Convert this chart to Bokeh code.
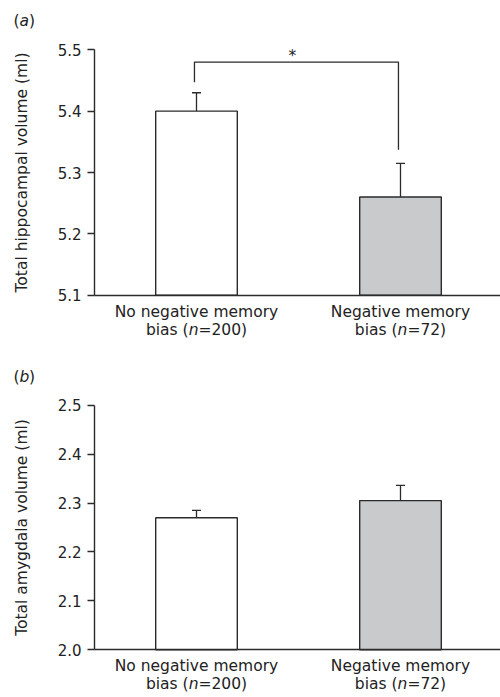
from bokeh.plotting import figure
from bokeh.models import (Range1d, FixedTicker, Label, ColumnDataSource, Whisker, TeeHead,
                          PrintfTickFormatter)
from bokeh.layouts import column
from bokeh.embed import file_html
from bokeh.resources import INLINE

# ---------------- data ----------------
group_line1 = ["No negative memory", "Negative memory"]
group_n = ["200", "72"]
bar_x = [0.5, 1.5]

hippo_mean = [5.40, 5.26]
hippo_se = [0.03, 0.055]
hippo_ticks = [5.1, 5.2, 5.3, 5.4, 5.5]
hippo_label = "Total hippocampal volume (ml)"

amyg_mean = [2.27, 2.305]
amyg_se = [0.015, 0.031]
amyg_ticks = [2.0, 2.1, 2.2, 2.3, 2.4, 2.5]
amyg_label = "Total amygdala volume (ml)"

bracket_x = [0.49, 1.49]
bracket_y = 5.48
bracket_left_end = 5.447
bracket_right_end = 5.337
star_x = 0.97

bar_fills = ["white", "#c9cacc"]

# ---------------- style / layout ----------------
FONT = "DejaVu Sans"
FS = 15.5
TXT = "#222222"
LINE = "#2b2b2b"
W = 500
AXIS_PX = 94      # page x of the y axis
BAR0_PX = 196     # page x of first bar centre
UNIT_PX = 204     # px per x unit
SHIFT = 6         # labels render this much below their nominal baseline
EM = {'b': .635, 'i': .278, 'a': .613, 's': .521, ' ': .318, '(': .390, ')': .390,
      'n': .634, '=': .838}
for d in "0123456789":
    EM[d] = .636


def tw(s, fs=FS):
    return sum(EM.get(c, .6) for c in s) * fs


X0 = bar_x[0] - (BAR0_PX - 0) / UNIT_PX
X1 = bar_x[0] + (W - BAR0_PX) / UNIT_PX
XAXIS = bar_x[0] - (BAR0_PX - AXIS_PX) / UNIT_PX


def add_italic_line(p, cx, y, pre, ital, post):
    w_pre, w_it, w_post = tw(pre), tw(ital), tw(post)
    start = -(w_pre + w_it + w_post) / 2
    common = dict(x=cx, x_units="data", y=y, y_units="screen",
                  text_font=FONT, text_font_size=f"{FS}px", text_color=TXT,
                  text_baseline="alphabetic", text_align="left")
    p.add_layout(Label(text=pre, x_offset=start, **common))
    p.add_layout(Label(text=ital, x_offset=start + w_pre, text_font_style="italic", **common))
    p.add_layout(Label(text=post, x_offset=start + w_pre + w_it, **common))


def add_tag(p, x, y, letter):
    common = dict(x_units="screen", y_units="screen", y=y, text_font=FONT,
                  text_font_size=f"{FS}px", text_color=TXT, text_baseline="alphabetic",
                  text_align="left")
    p.add_layout(Label(text="(", x=x, **common))
    p.add_layout(Label(text=letter, x=x + tw("("), text_font_style="italic", **common))
    p.add_layout(Label(text=")", x=x + tw("(") + tw("a"), **common))


def make_panel(means, ses, ticks, ylabel, tag, height, top_px, bottom_px,
               line1_px, line2_px, tag_px):
    ymin, ymax = ticks[0], ticks[-1]
    ppu = (bottom_px - top_px) / (ymax - ymin)
    y_end = ymax + top_px / ppu
    y_start = ymin - (height - bottom_px) / ppu
    p = figure(width=W, height=height, output_backend="svg", toolbar_location=None,
               x_range=Range1d(X0, X1), y_range=Range1d(y_start, y_end),
               min_border_left=0, min_border_right=0,
               min_border_top=0, min_border_bottom=0)
    p.outline_line_color = None
    p.grid.visible = False
    p.background_fill_color = "white"
    p.border_fill_color = "white"

    src = ColumnDataSource(dict(x=bar_x, top=means, fill=bar_fills,
                                upper=[m + s for m, s in zip(means, ses)],
                                lower=means))
    p.vbar(x="x", top="top", bottom=ymin, width=0.4, source=src, fill_color="fill",
           line_color=LINE, line_width=1.4)
    p.add_layout(Whisker(source=src, base="x", upper="upper", lower="lower",
                         line_color=LINE, line_width=1.3, lower_head=None,
                         upper_head=TeeHead(size=9, line_color=LINE, line_width=1.3)))

    p.xaxis.fixed_location = ymin
    p.xaxis.bounds = (XAXIS, X1)
    p.xaxis.ticker = FixedTicker(ticks=[])
    p.xaxis.axis_line_color = LINE
    p.xaxis.axis_line_width = 1.4
    p.xaxis.major_tick_line_color = None
    p.xaxis.minor_tick_line_color = None

    p.yaxis.fixed_location = XAXIS
    p.yaxis.bounds = (ymin, ymax)
    p.yaxis.ticker = FixedTicker(ticks=ticks)
    p.yaxis.formatter = PrintfTickFormatter(format="%.1f")
    p.yaxis.axis_line_color = LINE
    p.yaxis.axis_line_width = 1.4
    p.yaxis.major_tick_line_color = LINE
    p.yaxis.major_tick_line_width = 1.3
    p.yaxis.major_tick_in = 0
    p.yaxis.major_tick_out = 7
    p.yaxis.minor_tick_line_color = None
    p.yaxis.major_label_text_font = FONT
    p.yaxis.major_label_text_font_size = "15px"
    p.yaxis.major_label_text_color = TXT
    p.yaxis.major_label_standoff = 6
    p.yaxis.axis_label = ylabel
    p.yaxis.axis_label_text_font = FONT
    p.yaxis.axis_label_text_font_size = f"{FS}px"
    p.yaxis.axis_label_text_font_style = "normal"
    p.yaxis.axis_label_text_color = TXT
    p.yaxis.axis_label_standoff = 24

    for cx, l1, n in zip(bar_x, group_line1, group_n):
        p.add_layout(Label(text=l1, x=cx, x_units="data", y=height - (line1_px - SHIFT),
                           y_units="screen", text_font=FONT, text_font_size=f"{FS}px",
                           text_color=TXT, text_baseline="alphabetic", text_align="center"))
        add_italic_line(p, cx, height - (line2_px - SHIFT), "bias (", "n", "=" + n + ")")

    add_tag(p, 13, height - (tag_px - SHIFT), tag)
    return p


HA = 350
HB = 347
pa = make_panel(hippo_mean, hippo_se, hippo_ticks, hippo_label, "a", height=HA,
                top_px=49.3, bottom_px=294.7, line1_px=317, line2_px=335, tag_px=26)
pa.line(x=[bracket_x[0], bracket_x[0], bracket_x[1], bracket_x[1]],
        y=[bracket_left_end, bracket_y, bracket_y, bracket_right_end],
        line_color=LINE, line_width=1.3)
pa.add_layout(Label(text="*", x=star_x, y=bracket_y, x_units="data", y_units="data",
                    y_offset=6.5, text_font=FONT, text_font_size=f"{FS}px", text_color=TXT,
                    text_align="center", text_baseline="alphabetic"))

pb = make_panel(amyg_mean, amyg_se, amyg_ticks, amyg_label, "b", height=HB,
                top_px=404.7 - HA, bottom_px=649.3 - HA, line1_px=671 - HA,
                line2_px=689 - HA, tag_px=382 - HA)

layout = column(pa, pb, spacing=0)
open("out.html", "w").write(file_html(layout, INLINE))
